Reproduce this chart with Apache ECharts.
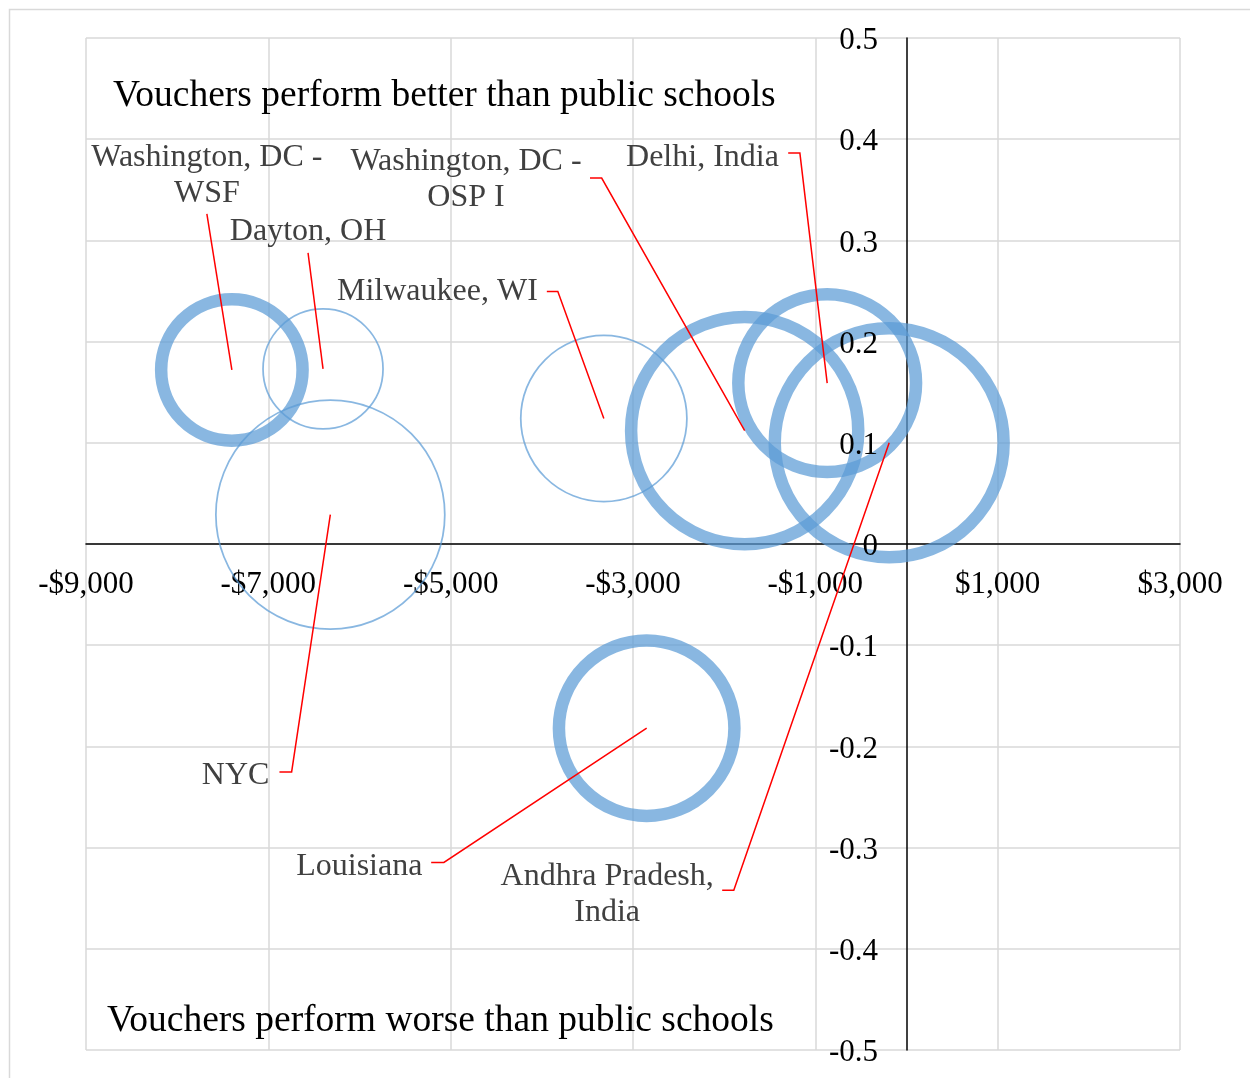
<!DOCTYPE html>
<html>
<head>
<meta charset="utf-8">
<script src="https://cdn.jsdelivr.net/npm/echarts@6/dist/echarts.min.js"></script>
<style>
html,body{margin:0;padding:0;background:#fff;}
#chart{width:1250px;height:1078px;}
</style>
</head>
<body>
<div id="chart"></div>
<script>
// ---- data ----
const studies = ['Washington, DC - WSF', 'Dayton, OH', 'NYC', 'Milwaukee, WI',
                 'Washington, DC - OSP I', 'Delhi, India', 'Andhra Pradesh, India', 'Louisiana'];
const labelText = ['Washington, DC -\nWSF', 'Dayton, OH', 'NYC', 'Milwaukee, WI',
                   'Washington, DC -\nOSP I', 'Delhi, India', 'Andhra Pradesh,\nIndia', 'Louisiana'];
const costDiff = [-7400, -6400, -6320, -3320, -1775, -870, -190, -2850];
const effect = [0.172, 0.173, 0.029, 0.124, 0.112, 0.159, 0.100, -0.182];
const bubbleSize = [50, 36, 131, 69, 129, 79, 131, 77];
const group = [1, 2, 2, 2, 1, 1, 1, 1];
const topNote = 'Vouchers perform better than public schools';
const bottomNote = 'Vouchers perform worse than public schools';

// ---- label layout (pixel offsets from bubble centre) ----
const labelLayout = [
  {line: [[-25, -156]], text: [-25, -194.5], align: 'center'},
  {line: [[-15, -116]], text: [-15, -137], align: 'center'},
  {line: [[-38.7, 257.3], [-50.9, 257.3]], text: [-60.9, 260.5], align: 'right'},
  {line: [[-46, -127], [-57, -127]], text: [-66, -126.5], align: 'right'},
  {line: [[-143, -252.6], [-154.7, -252.6]], text: [-278.7, -251], align: 'center'},
  {line: [[-27.3, -230], [-39, -230]], text: [-48.3, -225.5], align: 'right'},
  {line: [[-155.4, 447.5], [-167, 447.5]], text: [-282, 452], align: 'center'},
  {line: [[-202.8, 134.2], [-215.5, 134.2]], text: [-224.3, 138.5], align: 'right'}
];

const FONT = '"Liberation Serif", "Times New Roman", serif';
const ringColor = 'rgba(91,155,213,0.72)';

const bubbleData = costDiff.map((x, i) => ({
  name: studies[i],
  value: [x, effect[i], bubbleSize[i]],
  itemStyle: {borderWidth: group[i] === 1 ? 12.5 : 1.75}
}));
const labelData = costDiff.map((x, i) => [x, effect[i]]);

const yFmt = v => '{a|' + String(Math.round(v * 10) / 10) + '}';

const chart = echarts.init(document.getElementById('chart'));
chart.setOption({
  animation: false,
  backgroundColor: '#fff',
  grid: {left: 86, right: 70, top: 38, bottom: 28, containLabel: false, outerBoundsMode: 'none'},
  xAxis: {
    type: 'value', min: -9000, max: 3000, interval: 2000,
    axisLine: {onZero: true, lineStyle: {color: '#000', width: 1.5}},
    axisTick: {show: false},
    splitLine: {show: true, lineStyle: {color: '#d9d9d9', width: 1.5}},
    axisLabel: {
      color: '#000', fontSize: 31, fontFamily: FONT, margin: -481,
      formatter: v => (v < 0 ? '-' : '') + '$' + Math.abs(v).toLocaleString('en-US')
    }
  },
  yAxis: [
    {
      type: 'value', min: -0.5, max: 0.5, interval: 0.1,
      axisLine: {onZero: true, lineStyle: {color: '#000', width: 1.5}},
      axisTick: {show: false},
      splitLine: {show: true, lineStyle: {color: '#d9d9d9', width: 1.5}},
      axisLabel: {show: false}
    },
    {
      type: 'value', min: -0.5, max: 0.5, interval: 0.1, position: 'left', offset: 0,
      z: 5,
      axisLine: {show: false, onZero: false},
      axisTick: {show: false},
      splitLine: {show: false},
      axisLabel: {
        color: '#000', fontSize: 31, fontFamily: FONT, margin: -792,
        formatter: yFmt,
        rich: {a: {color: '#000', fontSize: 31, fontFamily: FONT, padding: [6, 0, 0, 0]}}
      }
    }
  ],
  graphic: [
    {type: 'rect', left: 7, top: 7, shape: {width: 1260, height: 1090},
     style: {fill: null, stroke: '#d9d9d9', lineWidth: 1.5}, silent: true, z: -1},
    {type: 'text', x: 113, y: 96, style: {text: topNote, fill: '#000', font: '37.5px ' + FONT, verticalAlign: 'middle'}, z: 5},
    {type: 'text', x: 107, y: 1021, style: {text: bottomNote, fill: '#000', font: '37.5px ' + FONT, verticalAlign: 'middle'}, z: 5}
  ],
  series: [
    {
      type: 'scatter',
      yAxisIndex: 0,
      data: bubbleData,
      symbol: 'circle',
      symbolSize: v => 20 * Math.sqrt(v[2]),
      itemStyle: {color: 'rgba(0,0,0,0)', borderColor: ringColor, opacity: 1},
      emphasis: {disabled: true},
      z: 2
    },
    {
      type: 'custom',
      yAxisIndex: 0,
      data: labelData,
      z: 4,
      silent: true,
      renderItem: function (params, api) {
        const i = params.dataIndex;
        const c = api.coord([api.value(0), api.value(1)]);
        const L = labelLayout[i];
        const pts = [c].concat(L.line.map(p => [c[0] + p[0], c[1] + p[1]]));
        return {
          type: 'group',
          children: [
            {type: 'polyline', shape: {points: pts}, style: {stroke: '#ff0000', lineWidth: 1.5, fill: null}},
            {type: 'text', x: c[0] + L.text[0], y: c[1] + L.text[1],
             style: {text: labelText[i], fill: '#404040', font: '32px ' + FONT,
                     align: L.align, verticalAlign: 'middle', lineHeight: 36}}
          ]
        };
      }
    }
  ]
});
</script>
</body>
</html>
